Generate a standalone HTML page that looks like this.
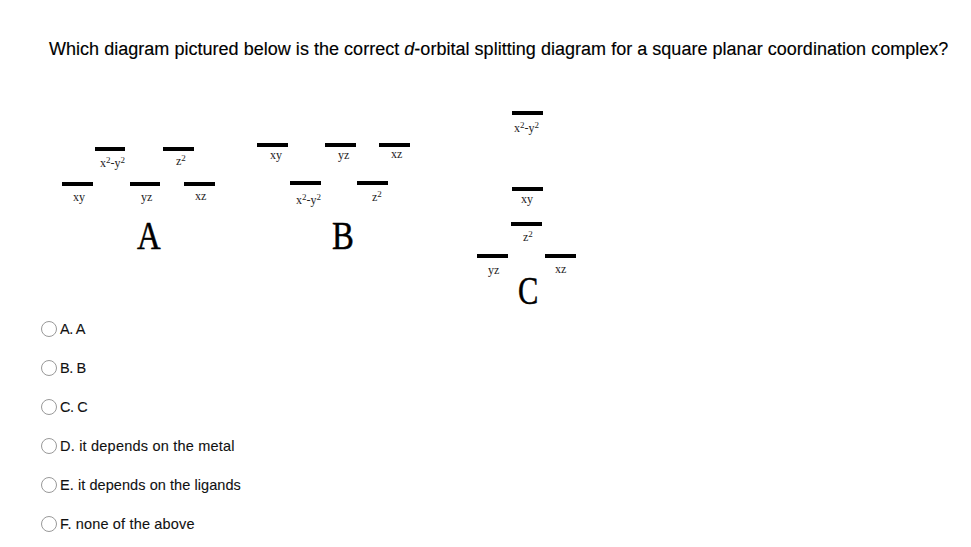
<!DOCTYPE html>
<html><head><meta charset="utf-8">
<style>
html,body{margin:0;padding:0;background:#fff;}
body{width:971px;height:547px;position:relative;overflow:hidden;font-family:"Liberation Sans",sans-serif;color:#000;}
.t{position:absolute;white-space:nowrap;line-height:1;}
#title{left:49px;top:40px;font-size:18px;letter-spacing:0.026px;-webkit-text-stroke:0.15px #000;}
.bar{position:absolute;background:#000;height:4px;width:31px;}
.lb{position:absolute;white-space:nowrap;font-family:"Liberation Serif",serif;font-size:12px;line-height:1;color:#222;}
.lb sup{font-size:9px;vertical-align:0;position:relative;top:-4px;}
.big{position:absolute;white-space:nowrap;font-family:"Liberation Serif",serif;font-size:39px;line-height:1;transform:scaleX(0.84);transform-origin:0 0;-webkit-text-stroke:0.5px #000;}
.opt{position:absolute;left:41px;height:16px;}
.rad{position:absolute;left:0;top:0;width:14px;height:14px;border:1px solid #999;border-radius:50%;}
.ot{position:absolute;left:19px;top:1px;font-size:14.5px;line-height:1;white-space:nowrap;color:#111;-webkit-text-stroke:0.1px #111;}
</style></head>
<body>
<div class="t" id="title">Which diagram pictured below is the correct <i>d</i>-orbital splitting diagram for a square planar coordination complex?</div>

<!-- Diagram A -->
<div class="bar" style="left:62px;top:182px;"></div>
<div class="bar" style="left:95px;top:147px;width:30px;"></div>
<div class="bar" style="left:130px;top:182px;width:30px;"></div>
<div class="bar" style="left:163px;top:147px;"></div>
<div class="bar" style="left:184px;top:182px;"></div>
<div class="lb" style="left:73px;top:191px;">xy</div>
<div class="lb" style="left:100px;top:157px;">x<sup>2</sup>-y<sup>2</sup></div>
<div class="lb" style="left:141px;top:191px;">yz</div>
<div class="lb" style="left:176px;top:155px;">z<sup>2</sup></div>
<div class="lb" style="left:195px;top:190px;">xz</div>
<div class="big" style="left:137px;top:216px;">A</div>

<!-- Diagram B -->
<div class="bar" style="left:257px;top:143px;"></div>
<div class="bar" style="left:325px;top:143px;"></div>
<div class="bar" style="left:379px;top:143px;"></div>
<div class="bar" style="left:290px;top:181px;"></div>
<div class="bar" style="left:357px;top:181px;"></div>
<div class="lb" style="left:270px;top:149px;">xy</div>
<div class="lb" style="left:338px;top:149px;">yz</div>
<div class="lb" style="left:391px;top:148px;">xz</div>
<div class="lb" style="left:296px;top:194px;">x<sup>2</sup>-y<sup>2</sup></div>
<div class="lb" style="left:372px;top:191px;">z<sup>2</sup></div>
<div class="big" style="left:332px;top:216px;">B</div>

<!-- Diagram C -->
<div class="bar" style="left:512px;top:111px;"></div>
<div class="bar" style="left:512px;top:187px;"></div>
<div class="bar" style="left:511px;top:222px;"></div>
<div class="bar" style="left:477px;top:254px;"></div>
<div class="bar" style="left:545px;top:254px;"></div>
<div class="lb" style="left:514px;top:122px;">x<sup>2</sup>-y<sup>2</sup></div>
<div class="lb" style="left:521px;top:193px;">xy</div>
<div class="lb" style="left:523px;top:231px;">z<sup>2</sup></div>
<div class="lb" style="left:488px;top:264px;">yz</div>
<div class="lb" style="left:555px;top:263px;">xz</div>
<div class="big" style="left:518px;top:271px;transform:scaleX(0.78);">C</div>

<!-- Options -->
<div class="opt" style="top:321px;"><div class="rad"></div><div class="ot" style="letter-spacing:-0.4px">A. A</div></div>
<div class="opt" style="top:360px;"><div class="rad"></div><div class="ot" style="letter-spacing:-0.4px">B. B</div></div>
<div class="opt" style="top:399px;"><div class="rad"></div><div class="ot" style="letter-spacing:-0.4px">C. C</div></div>
<div class="opt" style="top:438px;"><div class="rad"></div><div class="ot" style="letter-spacing:0.21px">D. it depends on the metal</div></div>
<div class="opt" style="top:477px;"><div class="rad"></div><div class="ot" style="letter-spacing:0.07px">E. it depends on the ligands</div></div>
<div class="opt" style="top:516px;"><div class="rad"></div><div class="ot" style="letter-spacing:0.16px">F. none of the above</div></div>
</body></html>
